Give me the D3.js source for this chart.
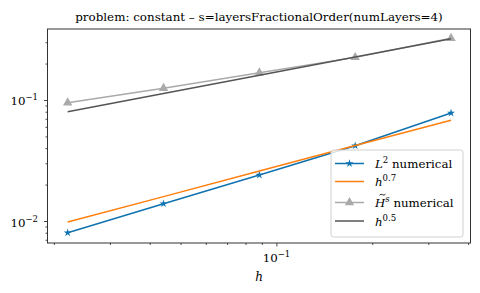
<!DOCTYPE html>
<html>
<head>
<meta charset="utf-8">
<script src="https://cdn.jsdelivr.net/npm/d3@7"></script>
<style>
  body { margin: 0; background: #fff; }
  text { font-family: "DejaVu Serif", serif; fill: #000; }
</style>
</head>
<body>
<svg id="chart" width="480" height="293"></svg>
<script>
// mesh sizes and errors
var hVals = [0.0221, 0.0442, 0.0884, 0.1768, 0.3536];
var l2Err = [0.0080, 0.0139, 0.0240, 0.0419, 0.0781];
var ref07 = [0.0098, 0.0159, 0.0259, 0.0421, 0.0680];
var hsErr = [0.0950, 0.1250, 0.1680, 0.2250, 0.3240];
var ref05 = [0.0800, 0.1132, 0.1600, 0.2263, 0.3200];
var xMajor = [0.1];
var xMinor = [0.02, 0.03, 0.04, 0.05, 0.06, 0.07, 0.08, 0.09, 0.2, 0.3, 0.4];
var yMajor = [0.01, 0.1];
var yMinor = [0.007, 0.008, 0.009, 0.02, 0.03, 0.04, 0.05, 0.06, 0.07, 0.08, 0.09, 0.2, 0.3];

var margin = { top: 29, right: 10, bottom: 50, left: 47.5 };
var width = 470.5 - margin.left;
var height = 243 - margin.top;

var svg = d3.select('#chart');
var g = svg.append('g')
    .attr('transform', 'translate(' + margin.left + ',' + margin.top + ')');

var x = d3.scaleLog().domain([0.0191, 0.407]).range([0, width]);
var y = d3.scaleLog().domain([0.00658, 0.386]).range([height, 0]);

var series = [
    { name: 'l2', vals: l2Err, color: '#0f72b0', marker: d3.symbolStar, msize: 20 },
    { name: 'r07', vals: ref07, color: '#ff7f0e', marker: null },
    { name: 'hs', vals: hsErr, color: '#aaaaaa', marker: d3.symbolTriangle, msize: 38 },
    { name: 'r05', vals: ref05, color: '#555555', marker: null }
];

var line = d3.line()
    .x(function (d) { return x(d[0]); })
    .y(function (d) { return y(d[1]); });

series.forEach(function (s) {
    var pts = hVals.map(function (h, i) { return [h, s.vals[i]]; });
    g.append('path')
        .attr('d', line(pts))
        .attr('fill', 'none')
        .attr('stroke', s.color)
        .attr('stroke-width', 1.5);
    if (s.marker) {
        g.selectAll('.nothing')
            .data(pts)
            .enter().append('path')
            .attr('transform', function (d) { return 'translate(' + x(d[0]) + ',' + y(d[1]) + ')'; })
            .attr('d', d3.symbol().type(s.marker).size(s.msize))
            .attr('fill', s.color);
    }
});

// axes
var axisColor = '#333';
function styleAxis(sel) {
    sel.select('.domain').remove();
    sel.selectAll('line').attr('stroke', axisColor).attr('stroke-width', 0.9);
    sel.selectAll('text').remove();
}
g.append('g').attr('transform', 'translate(0,' + height + ')')
    .call(d3.axisBottom(x).tickValues(xMinor).tickSize(2).tickFormat(''))
    .call(styleAxis);
g.append('g').attr('transform', 'translate(0,' + height + ')')
    .call(d3.axisBottom(x).tickValues(xMajor).tickSize(3.5).tickFormat(''))
    .call(styleAxis);
g.append('g')
    .call(d3.axisLeft(y).tickValues(yMinor).tickSize(2).tickFormat(''))
    .call(styleAxis);
g.append('g')
    .call(d3.axisLeft(y).tickValues(yMajor).tickSize(3.5).tickFormat(''))
    .call(styleAxis);

g.append('rect')
    .attr('width', width)
    .attr('height', height)
    .attr('fill', 'none')
    .attr('stroke', axisColor)
    .attr('stroke-width', 1);

function powLabel(sel, exp) {
    sel.append('tspan').text('10');
    sel.append('tspan').attr('dy', -5).style('font-size', '8.5px').text('\u2212' + exp);
}

xMajor.forEach(function (v) {
    var t = g.append('text')
        .attr('x', x(v))
        .attr('y', height + 19)
        .attr('text-anchor', 'middle')
        .style('font-size', '11.8px');
    powLabel(t, Math.round(-Math.log10(v)));
});
yMajor.forEach(function (v) {
    var t = g.append('text')
        .attr('x', -9.5)
        .attr('y', y(v) + 5.5)
        .attr('text-anchor', 'end')
        .style('font-size', '11.8px');
    powLabel(t, Math.round(-Math.log10(v)));
});

g.append('text')
    .attr('x', width / 2)
    .attr('y', height + 38)
    .attr('text-anchor', 'middle')
    .style('font-size', '12px')
    .style('font-style', 'italic')
    .text('h');

svg.append('text')
    .attr('x', margin.left + width / 2)
    .attr('y', 21)
    .attr('text-anchor', 'middle')
    .style('font-size', '11.9px')
    .text('problem: constant \u2013 s=layersFractionalOrder(numLayers=4)');

// legend
var legend = svg.append('g').attr('transform', 'translate(331,150)');
legend.append('rect')
    .attr('width', 132)
    .attr('height', 87)
    .attr('rx', 2.5)
    .attr('fill', 'rgba(255,255,255,0.8)')
    .attr('stroke', '#d0d0d0')
    .attr('stroke-width', 1);

var legendRows = [
    { s: series[0], y: 13.5, parts: [['L', true, 0], ['2', false, 1], [' numerical', false, 0]] },
    { s: series[1], y: 31.5, parts: [['h', true, 0], ['0.7', false, 1]] },
    { s: series[2], y: 52.5, tilde: true, parts: [['H', true, 0], ['s', true, 1], [' numerical', false, 0]] },
    { s: series[3], y: 71, parts: [['h', true, 0], ['0.5', false, 1]] }
];
legendRows.forEach(function (row) {
    var rg = legend.append('g').attr('transform', 'translate(0,' + row.y + ')');
    rg.append('line')
        .attr('x1', 4).attr('x2', 33)
        .attr('stroke', row.s.color)
        .attr('stroke-width', 1.5);
    if (row.s.marker) {
        rg.append('path')
            .attr('transform', 'translate(18.5,0)')
            .attr('d', d3.symbol().type(row.s.marker).size(row.s.msize))
            .attr('fill', row.s.color);
    }
    var t = rg.append('text').attr('x', 44).attr('y', 4.5).style('font-size', '11.8px');
    var up = 0;
    row.parts.forEach(function (p) {
        var ts = t.append('tspan').text(p[0]);
        if (p[1]) ts.style('font-style', 'italic');
        var dy = p[2] ? -5 : 0;
        ts.attr('dy', dy - up);
        up = dy;
        if (p[2]) ts.style('font-size', '8.5px');
    });
    if (row.tilde) {
        // accent over the H
        rg.append('path')
            .attr('d', 'M48.5,-7.2 q1.5,-1.8 3,-0.6 t3,-0.6')
            .attr('fill', 'none')
            .attr('stroke', '#000')
            .attr('stroke-width', 0.8);
    }
});
</script>
</body>
</html>
